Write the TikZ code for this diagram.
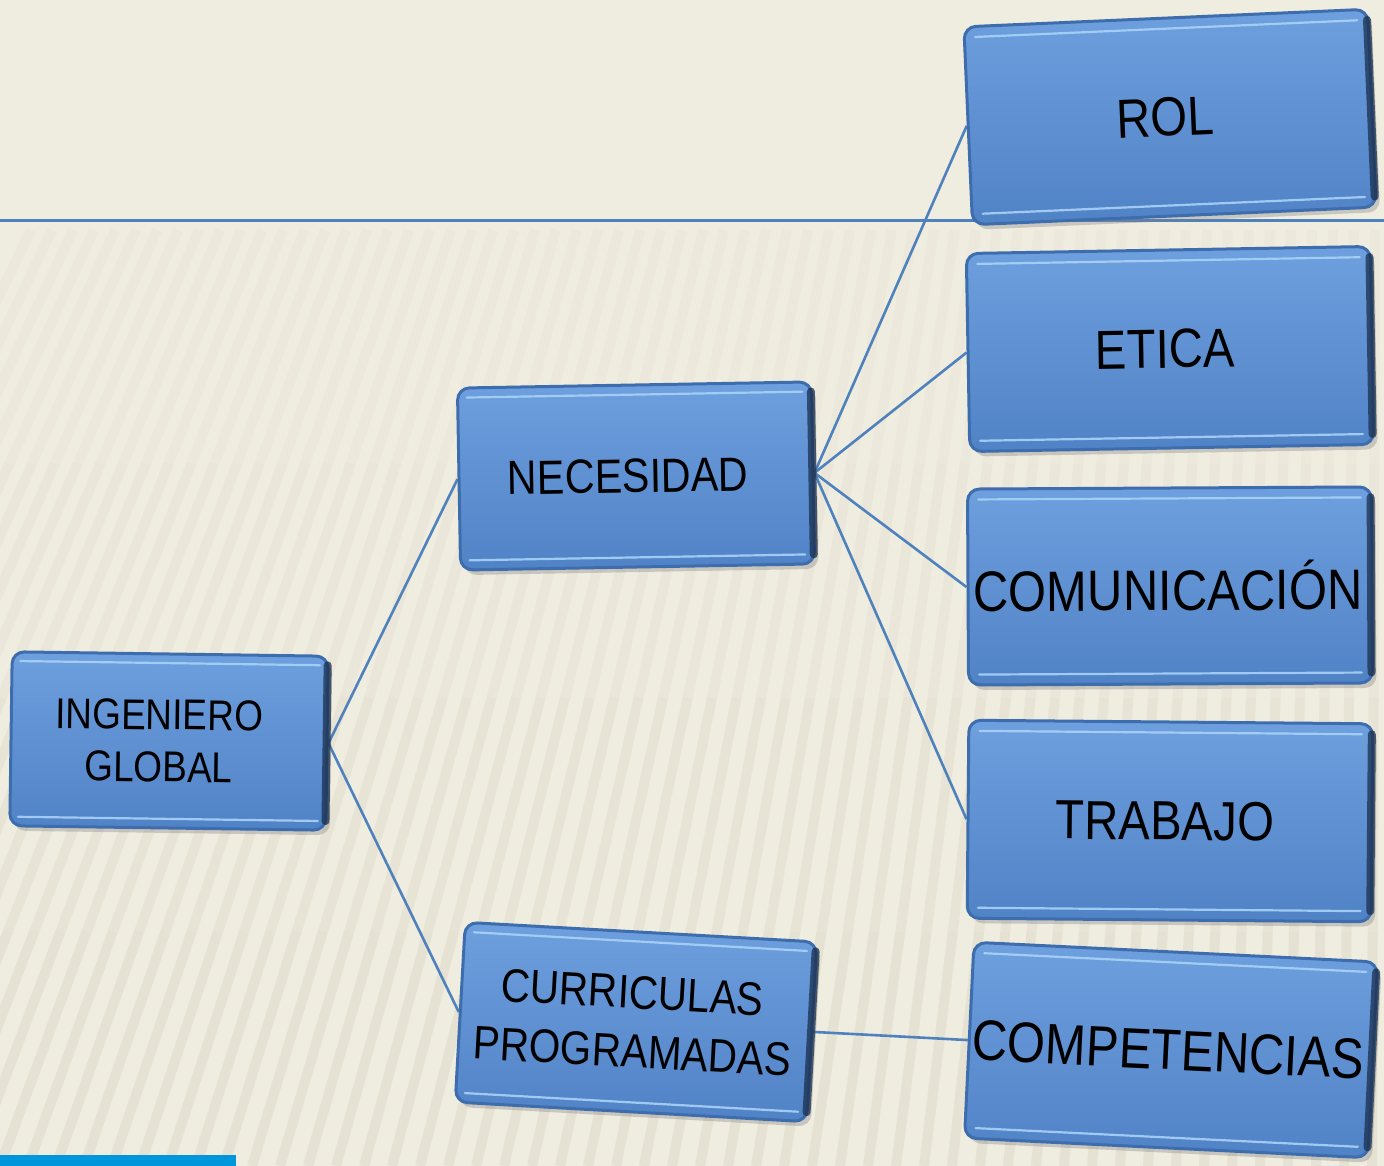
\documentclass[tikz,border=0pt]{standalone}
\usepackage{fontspec}
\setmainfont{Liberation Sans}[FakeStretch=0.86]
\usetikzlibrary{calc,shadows}
\definecolor{bgc}{HTML}{EFECE0}
\definecolor{stripec}{HTML}{C9C4AC}
\definecolor{linkc}{HTML}{4F81BD}
\definecolor{boxhi}{HTML}{6EA0DF}
\definecolor{boxlo}{HTML}{5082C6}
\definecolor{boxrim}{HTML}{3D6DAD}
\definecolor{boxdark}{HTML}{1A2F4D}
\definecolor{boxlight}{HTML}{A9D2F6}
\definecolor{barc}{HTML}{0096DB}
\pgfdeclarelayer{back}
\pgfsetlayers{back,main}
\newcommand{\bevelbox}[1]{%
  \coordinate (#1-tl) at ($(#1.north west)!0.06!(#1.south west)$);
  \coordinate (#1-tr) at ($(#1.north east)!0.06!(#1.south east)$);
  \coordinate (#1-bl) at ($(#1.south west)!0.06!(#1.north west)$);
  \coordinate (#1-br) at ($(#1.south east)!0.06!(#1.north east)$);
  \draw[hlline] ($(#1-tl)!0.03!(#1-tr)$) -- ($(#1-tl)!0.97!(#1-tr)$);
  \draw[hlline] ($(#1-bl)!0.03!(#1-br)$) -- ($(#1-bl)!0.97!(#1-br)$);
  \draw[dkline] ($(#1-tr)!0.006!(#1-tl)$) -- ($(#1-br)!0.006!(#1-bl)$);
}
\begin{document}
\begin{tikzpicture}[x=1pt,y=-1pt,
  box/.style={rectangle, rounded corners=12pt, draw=boxrim, line width=3pt,
    top color=boxhi, bottom color=boxlo, align=center, inner sep=0pt, text=black,
    drop shadow={opacity=0.35, shadow xshift=4pt, shadow yshift=-5pt}},
  link/.style={draw=linkc, line width=2.6pt},
  hlline/.style={boxlight, line width=2.2pt, line cap=round, opacity=0.9},
  dkline/.style={boxdark, line width=8pt, line cap=round, opacity=0.75},
  stripe/.style={stripec, line width=10pt},
  lblsmall/.style={font=\fontsize{43}{52}\selectfont},
  lblmid/.style={font=\fontsize{48}{56}\selectfont},
  lblcur/.style={font=\fontsize{47}{59}\selectfont},
  lblbig/.style={font=\fontsize{55}{60}\selectfont},
  lblwide/.style={font=\fontsize{57}{60}\selectfont},
]
\useasboundingbox (0,0) rectangle (1384,1166);

% nodes
\node[box, lblsmall, minimum width=316pt, minimum height=174pt, rotate=-0.8] (ing) at (169,741) {INGENIERO\hspace*{20pt}\\GLOBAL\hspace*{20pt}};
\node[box, lblmid, minimum width=354pt, minimum height=182pt, rotate=1] (nec) at (636,476) {NECESIDAD\hspace*{16pt}};
\node[box, lblcur, minimum width=352pt, minimum height=180pt, rotate=-3.2] (cur) at (636,1022) {CURRICULAS\hspace*{10pt}\\PROGRAMADAS\hspace*{4pt}};
\node[box, lblbig, minimum width=404pt, minimum height=198pt, rotate=2.5] (rol) at (1170,117) {ROL\hspace*{10pt}};
\node[box, lblbig, minimum width=404pt, minimum height=198pt, rotate=1] (eti) at (1170,349) {ETICA\hspace*{10pt}};
\node[box, lblwide, minimum width=404pt, minimum height=196pt, rotate=0.3] (com) at (1170,586) {COMUNICACIÓN\hspace*{4pt}};
\node[box, lblbig, minimum width=404pt, minimum height=198pt, rotate=-0.5] (tra) at (1170,821) {TRABAJO\hspace*{10pt}};
\node[box, lblwide, minimum width=404pt, minimum height=196pt, rotate=-2.8] (cmp) at (1171,1050) {COMPETENCIAS\hspace*{6pt}};

\foreach \n in {ing,nec,cur,rol,eti,com,tra,cmp}{\bevelbox{\n}}

\begin{pgfonlayer}{back}
  \fill[bgc] (0,0) rectangle (1384,1166);
  \begin{scope}
    \clip (0,0) rectangle (1384,1166);
    \foreach \x in {-420,-392,...,1400}{
      \pgfmathsetmacro\tx{\x+0.25*(1384-\x)}
      \coordinate (s0) at (\x,1166);
      \coordinate (s4) at (\tx,230);
      \draw[stripe, opacity=0.24] (s0) -- ($(s0)!0.25!(s4)$);
      \draw[stripe, opacity=0.19] ($(s0)!0.25!(s4)$) -- ($(s0)!0.5!(s4)$);
      \draw[stripe, opacity=0.13] ($(s0)!0.5!(s4)$) -- ($(s0)!0.75!(s4)$);
      \draw[stripe, opacity=0.07] ($(s0)!0.75!(s4)$) -- (s4);
    }
  \end{scope}
  \draw[linkc, line width=3pt] (0,221) coordinate (hl0) -- (1384,221) coordinate (hl1);
  \draw[link] (ing.east) -- (nec.west);
  \draw[link] (ing.east) -- (cur.west);
  \draw[link] (nec.east) -- (rol.west);
  \draw[link] (nec.east) -- (eti.west);
  \draw[link] (nec.east) -- (com.west);
  \draw[link] (nec.east) -- (tra.west);
  \draw[link] (cur.east) -- (cmp.west);
  \fill[barc] (0,1155) rectangle (236,1166);
\end{pgfonlayer}
\end{tikzpicture}
\end{document}
